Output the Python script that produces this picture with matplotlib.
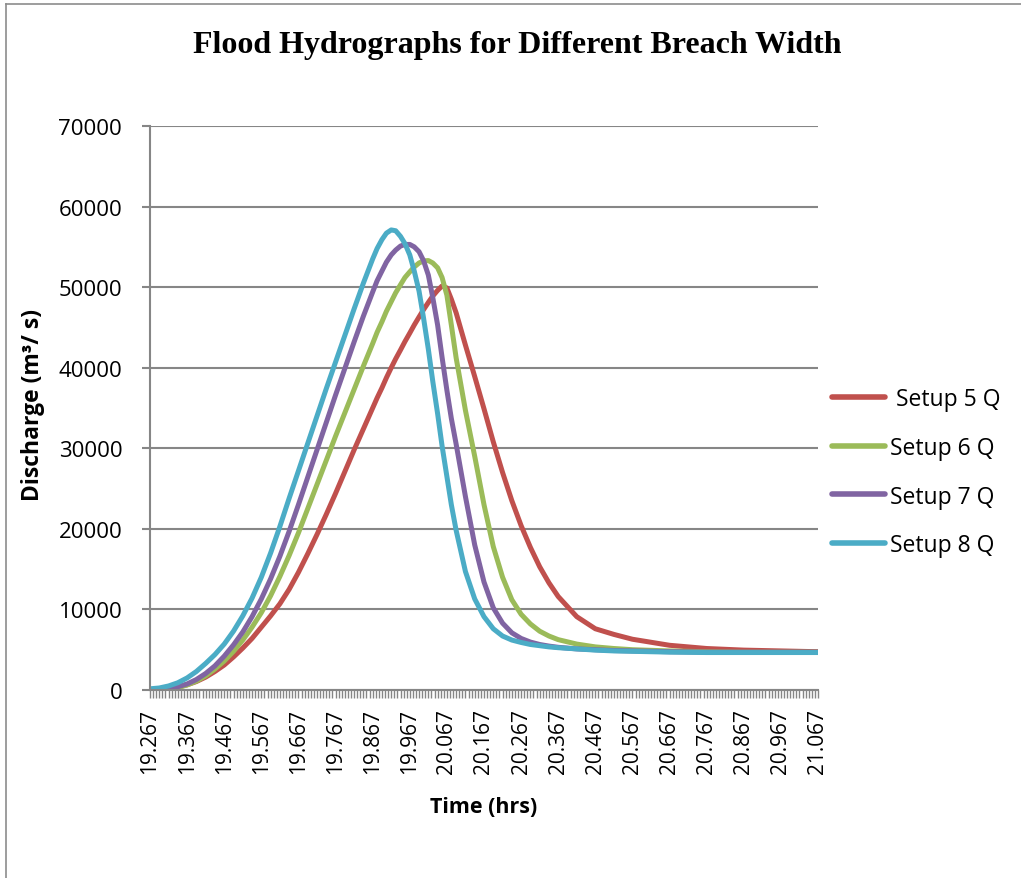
import matplotlib
matplotlib.use('Agg')
import matplotlib.pyplot as plt
from matplotlib.lines import Line2D
from matplotlib.ticker import FixedLocator

# Time axis (hrs) (denser around the peaks)
time_hrs = [19.267, 19.292, 19.317, 19.342, 19.367, 19.392, 19.417, 19.442, 19.467, 19.492,
            19.517, 19.542, 19.567, 19.592, 19.617, 19.642, 19.667, 19.692, 19.717, 19.742,
            19.767, 19.792, 19.817, 19.842, 19.867, 19.879, 19.892, 19.904, 19.917, 19.929,
            19.942, 19.954, 19.967, 19.979, 19.992, 20.004, 20.017, 20.029, 20.042, 20.054,
            20.067, 20.079, 20.092, 20.117, 20.142, 20.167, 20.192, 20.217, 20.242,
            20.267, 20.292, 20.317, 20.342, 20.367, 20.417, 20.467, 20.517, 20.567, 20.667,
            20.767, 20.867, 20.967, 21.067]

# Discharge (m3/s) for each setup
setup5_q = [0, 50, 150, 350, 650, 1050, 1600, 2300, 3100, 4100,
            5200, 6400, 7800, 9200, 10700, 12500, 14600, 16900, 19300, 21800,
            24400, 27100, 29800, 32400, 35000, 36250, 37500, 38750, 40000, 41100,
            42200, 43250, 44300, 45300, 46300, 47200, 48100, 48900, 49600, 50150,
            49900, 48500, 46800, 42800, 38900, 34900, 30800, 27000, 23500,
            20400, 17700, 15300, 13300, 11600, 9100, 7600, 6900, 6300, 5550,
            5150, 4950, 4850, 4750]
setup6_q = [0, 40, 120, 300, 620, 1100, 1750, 2600, 3600, 4800,
            6200, 7800, 9600, 11700, 14100, 16700, 19500, 22500, 25500, 28500,
            31500, 34400, 37300, 40200, 43000, 44400, 45700, 47000, 48200, 49300,
            50300, 51200, 51900, 52500, 53000, 53250, 53300, 53000, 52400, 51200,
            49000, 45300, 41200, 34700, 29000, 23000, 17800, 14000, 11200,
            9400, 8200, 7300, 6700, 6250, 5700, 5350, 5150, 5000, 4850,
            4750, 4700, 4700, 4700]
setup7_q = [20, 70, 180, 400, 750, 1300, 2050, 3000, 4200, 5600,
            7200, 9100, 11300, 13800, 16600, 19700, 23000, 26400, 29800, 33200,
            36600, 39900, 43200, 46400, 49400, 50800, 52000, 53100, 54000, 54600,
            55100, 55300, 55300, 55000, 54400, 53300, 51500, 48700, 45300, 41300,
            37200, 33700, 30500, 24000, 18000, 13400, 10200, 8300, 7100,
            6400, 5950, 5650, 5450, 5300, 5100, 5000, 4900, 4850, 4750,
            4700, 4700, 4700, 4700]
setup8_q = [150, 250, 500, 900, 1500, 2300, 3300, 4400, 5700, 7300,
            9200, 11400, 14000, 17000, 20300, 23800, 27200, 30600, 34000, 37400,
            40700, 44000, 47300, 50500, 53500, 54800, 55900, 56700, 57100, 57000,
            56300, 55400, 54000, 52000, 49500, 46200, 42300, 38300, 34300, 30300,
            26500, 23000, 19800, 14700, 11300, 9100, 7600, 6700, 6200,
            5900, 5650, 5500, 5350, 5250, 5100, 4950, 4850, 4800, 4700,
            4650, 4650, 4650, 4650]

series_names = [' Setup 5 Q', 'Setup 6 Q', 'Setup 7 Q', 'Setup 8 Q']
series_values = [setup5_q, setup6_q, setup7_q, setup8_q]
series_colors = ['#C0504D', '#9BBB59', '#8064A2', '#4BACC6']

x_tick_labels = ['19.267', '19.367', '19.467', '19.567', '19.667', '19.767', '19.867',
                 '19.967', '20.067', '20.167', '20.267', '20.367', '20.467', '20.567',
                 '20.667', '20.767', '20.867', '20.967', '21.067']
y_ticks = [0, 10000, 20000, 30000, 40000, 50000, 60000, 70000]

plt.rcParams['font.family'] = ['Open Sans', 'DejaVu Sans']
grid_gray = '#868686'

W, H = 1021, 879
fig = plt.figure(figsize=(W / 100, H / 100), dpi=100)
ax = fig.add_axes([150 / W, 1 - 691 / H, 668 / W, 564 / H])

for q, name, c in zip(series_values, series_names, series_colors):
    ax.plot(time_hrs, q, color=c, lw=3.6, label=name,
            solid_capstyle='round', solid_joinstyle='round')

x_major = [float(s) for s in x_tick_labels]
ax.set_xlim(x_major[0], x_major[-1])
ax.set_ylim(0, 70000)
ax.set_xticks(x_major)
ax.set_xticklabels(x_tick_labels, rotation=90, fontsize=15)
# category tick marks (one per 30 s step)
n_cat = 216
ax.xaxis.set_minor_locator(FixedLocator([x_major[0] + i * 1.8 / n_cat for i in range(n_cat + 1)]))
ax.set_yticks(y_ticks)
ax.set_yticklabels([str(v) for v in y_ticks], fontsize=16)

ax.tick_params(axis='x', which='both', length=6, width=1, color=grid_gray, pad=7)
ax.tick_params(axis='y', length=6, width=1.5, color=grid_gray, pad=14)
ax.yaxis.grid(True, color=grid_gray, lw=1.5)
ax.set_axisbelow(True)
for s in ['top', 'right']:
    ax.spines[s].set_visible(False)
for s in ['left', 'bottom']:
    ax.spines[s].set_color(grid_gray)
    ax.spines[s].set_linewidth(1.5)

leg = ax.legend(loc='upper left', bbox_to_anchor=(832 / W, 1 - 388 / H),
                bbox_transform=fig.transFigure, frameon=False, fontsize=16.5,
                handlelength=2.3, handletextpad=0.25, labelspacing=1.08,
                borderpad=0, borderaxespad=0)
for h in leg.get_lines():
    h.set_linewidth(4)

fig.text(517 / W, 1 - 45 / H, 'Flood Hydrographs for Different Breach Width',
         family='Liberation Serif', weight='bold', fontsize=23, ha='center', va='center')
fig.text(33 / W, 1 - 405 / H, 'Discharge (m³/ s)', rotation=90, weight='bold',
         fontsize=16.5, ha='center', va='center')
fig.text(484 / W, 1 - 808 / H, 'Time (hrs)', weight='bold', fontsize=15.5,
         ha='center', va='center')

# outer chart border
fig.add_artist(Line2D([6 / W, 6 / W], [0, 1 - 5 / H], transform=fig.transFigure,
                      color='#8c8c8c', lw=1.2))
fig.add_artist(Line2D([6 / W, 1], [1 - 5 / H, 1 - 5 / H], transform=fig.transFigure,
                      color='#8c8c8c', lw=1.2))

fig.savefig('out.png', dpi=100)
